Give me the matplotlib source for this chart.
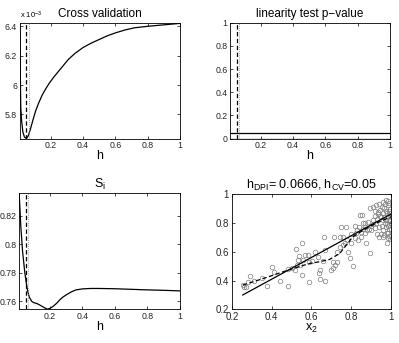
import matplotlib
matplotlib.use('Agg')
import matplotlib.pyplot as plt
from matplotlib.ticker import FuncFormatter

plt.rcParams['font.family'] = ['Liberation Sans', 'DejaVu Sans']
plt.rcParams['mathtext.fontset'] = 'custom'
plt.rcParams['mathtext.rm'] = 'Liberation Sans'
plt.rcParams['mathtext.it'] = 'Liberation Sans:italic'

# bandwidths
h_cv = 0.05
h_dpi = 0.0666

# cross validation score (x 1e-3)
cv_h = [0.01, 0.012, 0.015, 0.02, 0.028, 0.038, 0.05, 0.062, 0.075, 0.09, 0.106, 0.125,
        0.147, 0.17, 0.19, 0.22, 0.25, 0.28, 0.31, 0.35, 0.4, 0.45, 0.5, 0.55, 0.6,
        0.66, 0.72, 0.8, 0.9, 1.0]
cv_score = [6.42, 6.1, 5.85, 5.76, 5.68, 5.645, 5.635, 5.655, 5.70, 5.76, 5.82, 5.875,
            5.93, 5.975, 6.01, 6.055, 6.095, 6.135, 6.175, 6.215, 6.255, 6.285, 6.31,
            6.335, 6.355, 6.375, 6.39, 6.40, 6.41, 6.42]

# linearity test p-value
pv_h = [0.01, 1.0]
pval = [0.0, 0.0]
alpha = 0.05

# S_i
si_h = [0.01, 0.02, 0.031, 0.045, 0.059, 0.072, 0.087, 0.10, 0.118, 0.135, 0.15, 0.165,
        0.183, 0.2, 0.22, 0.24, 0.26, 0.28, 0.30, 0.33, 0.36, 0.40, 0.45, 0.5, 0.6,
        0.7, 0.8, 0.9, 1.0]
si = [0.836, 0.813, 0.795, 0.780, 0.769, 0.763, 0.760, 0.759, 0.7585, 0.7575, 0.7565,
      0.7555, 0.7545, 0.755, 0.7565, 0.7585, 0.761, 0.763, 0.7645, 0.7665, 0.768,
      0.7687, 0.769, 0.769, 0.7688, 0.7684, 0.768, 0.7677, 0.7673]

# scatter data
x2 = [0.255, 0.263, 0.270, 0.283, 0.292, 0.313, 0.353, 0.377, 0.400, 0.413, 0.442, 0.480,
      0.483, 0.500, 0.515, 0.522, 0.527, 0.533, 0.537, 0.545, 0.553, 0.553, 0.558, 0.567,
      0.583, 0.587, 0.590, 0.605, 0.617, 0.634, 0.642, 0.639, 0.659, 0.642, 0.667, 0.662,
      0.667, 0.700, 0.709, 0.717, 0.729, 0.709, 0.712, 0.730, 0.745, 0.750, 0.775, 0.759,
      0.742, 0.760, 0.770, 0.780, 0.784, 0.792, 0.809, 0.800, 0.800, 0.817, 0.820, 0.825,
      0.830, 0.834, 0.840, 0.842, 0.855, 0.850, 0.850, 0.859, 0.860, 0.867, 0.870, 0.875,
      0.880, 0.890, 0.892, 0.867, 0.884, 0.892, 0.900, 0.909, 0.900, 0.909, 0.910, 0.917,
      0.920, 0.920, 0.925, 0.925, 0.930, 0.930, 0.934, 0.935, 0.940, 0.942, 0.942, 0.945,
      0.945, 0.950, 0.950, 0.955, 0.955, 0.959, 0.959, 0.960, 0.960, 0.960, 0.965, 0.967,
      0.967, 0.970, 0.970, 0.975, 0.975, 0.975, 0.975, 0.979, 0.979, 0.980, 0.980, 0.984,
      0.984, 0.984, 0.985, 0.985, 0.985, 0.989, 0.990, 0.990, 0.990, 0.990, 0.995, 0.995,
      0.995, 0.995, 0.997, 0.998, 0.998]
y = [0.369, 0.357, 0.353, 0.387, 0.431, 0.399, 0.415, 0.362, 0.491, 0.461, 0.399, 0.364,
     0.482, 0.485, 0.470, 0.616, 0.505, 0.542, 0.572, 0.510, 0.658, 0.440, 0.542, 0.577,
     0.575, 0.531, 0.392, 0.538, 0.600, 0.566, 0.473, 0.455, 0.536, 0.408, 0.397, 0.704,
     0.612, 0.473, 0.489, 0.508, 0.531, 0.531, 0.704, 0.600, 0.630, 0.774, 0.774, 0.704,
     0.704, 0.645, 0.660, 0.680, 0.600, 0.554, 0.501, 0.662, 0.720, 0.696, 0.780, 0.727,
     0.750, 0.681, 0.770, 0.855, 0.855, 0.704, 0.740, 0.797, 0.760, 0.727, 0.800, 0.658,
     0.750, 0.760, 0.588, 0.774, 0.808, 0.901, 0.750, 0.912, 0.780, 0.820, 0.790, 0.762,
     0.850, 0.880, 0.924, 0.797, 0.830, 0.720, 0.878, 0.860, 0.700, 0.935, 0.774, 0.890,
     0.850, 0.843, 0.720, 0.780, 0.910, 0.947, 0.750, 0.820, 0.870, 0.700, 0.840, 0.901,
     0.716, 0.800, 0.930, 0.959, 0.774, 0.820, 0.885, 0.866, 0.658, 0.790, 0.730, 0.924,
     0.727, 0.693, 0.850, 0.950, 0.780, 0.820, 0.880, 0.940, 0.760, 0.710, 0.840, 0.820,
     0.870, 0.690, 0.900, 0.800, 0.760]

# linear fit and local estimate
fit_x = [0.255, 1.0]
fit_y = [0.30, 0.862]
loc_x = [0.255, 0.308, 0.375, 0.458, 0.525, 0.592, 0.642, 0.692, 0.742, 0.775, 0.808,
         0.875, 0.942, 1.0]
loc_y = [0.369, 0.392, 0.422, 0.461, 0.491, 0.519, 0.531, 0.547, 0.588, 0.646, 0.704,
         0.762, 0.808, 0.843]

fmt = FuncFormatter(lambda v, p: '%g' % v)
h_ticks = [0.2, 0.4, 0.6, 0.8, 1.0]


def style(ax, size=6.3):
    ax.tick_params(direction='in', top=True, right=True, length=2, width=0.5,
                   labelsize=size, pad=2, labelcolor='0.15')
    for s in ax.spines.values():
        s.set_linewidth(0.6)
    ax.xaxis.set_major_formatter(fmt)
    ax.yaxis.set_major_formatter(fmt)


def bw_lines(ax):
    ax.axvline(h_cv, color='black', linestyle=(0, (3.5, 2)), linewidth=0.9)
    ax.axvline(h_dpi, color='0.55', linestyle=(0, (1, 1.5)), linewidth=0.6)


fig = plt.figure(figsize=(3.99, 3.43), dpi=100)

# cross validation
ax1 = fig.add_axes([0.050, 0.596, 0.401, 0.338])
ax1.plot(cv_h, cv_score, color='black', linewidth=0.9)
bw_lines(ax1)
ax1.set_xlim(0.01, 1)
ax1.set_ylim(5.635, 6.425)
ax1.set_xticks(h_ticks)
ax1.set_yticks([5.8, 6.0, 6.2, 6.4])
style(ax1)
ax1.set_title('Cross validation', fontsize=8.5, pad=4)
ax1.set_xlabel('h', fontsize=9, labelpad=0)
ax1.text(0.0, 1.015, 'x 10$^{-3}$', transform=ax1.transAxes, fontsize=5.5,
         ha='left', va='bottom')

# linearity test
ax2 = fig.add_axes([0.577, 0.596, 0.400, 0.338])
ax2.plot(pv_h, pval, color='black', linewidth=0.9)
ax2.axhline(alpha, color='black', linewidth=0.9)
bw_lines(ax2)
ax2.set_xlim(0.01, 1)
ax2.set_ylim(0, 1)
ax2.set_xticks(h_ticks)
ax2.set_yticks([0, 0.2, 0.4, 0.6, 0.8, 1.0])
style(ax2)
ax2.set_title('linearity test p\u2212value', fontsize=8.5, pad=4)
ax2.set_xlabel('h', fontsize=9, labelpad=0)

# S_i
ax3 = fig.add_axes([0.048, 0.098, 0.403, 0.339])
ax3.plot(si_h, si, color='black', linewidth=0.9)
bw_lines(ax3)
ax3.set_xlim(0.01, 1)
ax3.set_ylim(0.7543, 0.836)
ax3.set_xticks(h_ticks)
ax3.set_yticks([0.76, 0.78, 0.80, 0.82])
style(ax3)
ax3.set_title(r'S$_\mathrm{i}$', fontsize=9, pad=4)
ax3.set_xlabel('h', fontsize=9, labelpad=0)

# scatter with fits
ax4 = fig.add_axes([0.581, 0.098, 0.399, 0.336])
ax4.plot(x2, y, linestyle='none', marker='o', markersize=3.3, markerfacecolor='none',
         markeredgecolor='0.5', markeredgewidth=0.5)
ax4.plot(fit_x, fit_y, color='black', linewidth=0.9)
ax4.plot(loc_x, loc_y, color='black', linestyle=(0, (3.5, 2)), linewidth=0.9)
ax4.set_xlim(0.2, 1)
ax4.set_ylim(0.2, 1)
ax4.set_xticks([0.2, 0.4, 0.6, 0.8, 1.0])
ax4.set_yticks([0.2, 0.4, 0.6, 0.8, 1.0])
style(ax4, size=7)
ax4.set_title(r'h$_\mathrm{DPI}$= 0.0666, h$_\mathrm{CV}$=0.05', fontsize=9, pad=4)
ax4.set_xlabel(r'x$_\mathrm{2}$', fontsize=9, labelpad=0)

fig.savefig('out.png', dpi=100)
